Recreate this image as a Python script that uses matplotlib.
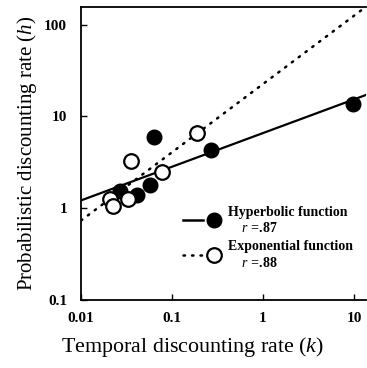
import matplotlib
matplotlib.use("Agg")
import matplotlib.pyplot as plt
from matplotlib.lines import Line2D
from matplotlib.legend_handler import HandlerTuple
from matplotlib.ticker import FixedLocator, FixedFormatter, NullLocator

plt.rcParams['font.family'] = ['Liberation Serif', 'DejaVu Serif']
plt.rcParams['mathtext.fontset'] = 'custom'
plt.rcParams['mathtext.rm'] = 'Liberation Serif'
plt.rcParams['mathtext.it'] = 'Liberation Serif:italic'
plt.rcParams['mathtext.bf'] = 'Liberation Serif:bold:italic'

# hyperbolic (filled) points: temporal k vs probabilistic h
hyp_k = [0.027, 0.041, 0.057, 0.063, 0.27, 9.7]
hyp_h = [1.55, 1.37, 1.76, 6.0, 4.27, 13.8]

# exponential (open) points
exp_k = [0.021, 0.0226, 0.033, 0.035, 0.077, 0.187]
exp_h = [1.26, 1.04, 1.26, 3.23, 2.47, 6.6]

# regression lines (end points)
fit_k = [0.01, 15.0]
hyp_fit = [1.21, 17.8]
exp_fit = [0.73, 170.0]

x_ticks = [0.01, 0.1, 1, 10]
x_labels = ['0.01', '0.1', '1', '10']
y_ticks = [0.1, 1, 10, 100]
y_labels = ['0.1', '1', '10', '100']

fig = plt.figure(figsize=(3.67, 3.68), dpi=100)
ax = fig.add_axes([0.221, 0.186, 0.776, 0.794])

ax.plot(fit_k, hyp_fit, color='black', lw=1.6, zorder=2)
ax.plot(fit_k, exp_fit, color='black', lw=1.8, ls=(0, (0.6, 2.8)),
        dash_capstyle='round', zorder=2)
ax.plot(hyp_k, hyp_h, 'o', color='black', ms=10.5, zorder=3)
ax.plot(exp_k, exp_h, 'o', mfc='white', mec='black', mew=1.6, ms=10.5, zorder=3)

ax.set_xscale('log')
ax.set_yscale('log')
ax.set_xlim(0.01, 13.5)
ax.set_ylim(0.1, 155)

ax.xaxis.set_major_locator(FixedLocator(x_ticks))
ax.xaxis.set_major_formatter(FixedFormatter(x_labels))
ax.yaxis.set_major_locator(FixedLocator(y_ticks))
ax.yaxis.set_major_formatter(FixedFormatter(y_labels))
ax.xaxis.set_minor_locator(NullLocator())
ax.yaxis.set_minor_locator(NullLocator())
ax.tick_params(direction='in', length=4.5, width=1.0, labelsize=11)
ax.tick_params(axis='x', pad=9)
ax.tick_params(axis='y', pad=10)
for lab in ax.get_xticklabels() + ax.get_yticklabels():
    lab.set_fontweight('bold')

ax.spines['right'].set_visible(False)
for s in ['left', 'bottom', 'top']:
    ax.spines[s].set_linewidth(1.3)

ax.set_xlabel('Temporal discounting rate ($k$)', fontsize=15.8)
ax.xaxis.set_label_coords(0.39, -0.123)
ax.set_ylabel('Probabilistic discounting rate ($h$)', fontsize=15, labelpad=4)

h_line = Line2D([], [], color='black', lw=1.8)
h_mark = Line2D([], [], marker='o', color='black', ls='none', ms=10.5)
e_line = Line2D([], [], color='black', lw=1.8, ls=(0, (0.6, 2.8)), dash_capstyle='round')
e_mark = Line2D([], [], marker='o', mfc='white', mec='black', mew=1.6, ls='none', ms=10.5)
ax.legend([(h_line, h_mark), (e_line, e_mark)],
          ['Hyperbolic function\n    $r$ =.87',
           'Exponential function\n    $r$ =.88'],
          handler_map={tuple: HandlerTuple(ndivide=None, pad=0)},
          loc='lower right', bbox_to_anchor=(1.0, 0.06), frameon=False,
          prop={'size': 10, 'weight': 'bold'}, handlelength=3.0,
          handletextpad=0.3, labelspacing=0.4)

fig.savefig('out.png', dpi=100)
